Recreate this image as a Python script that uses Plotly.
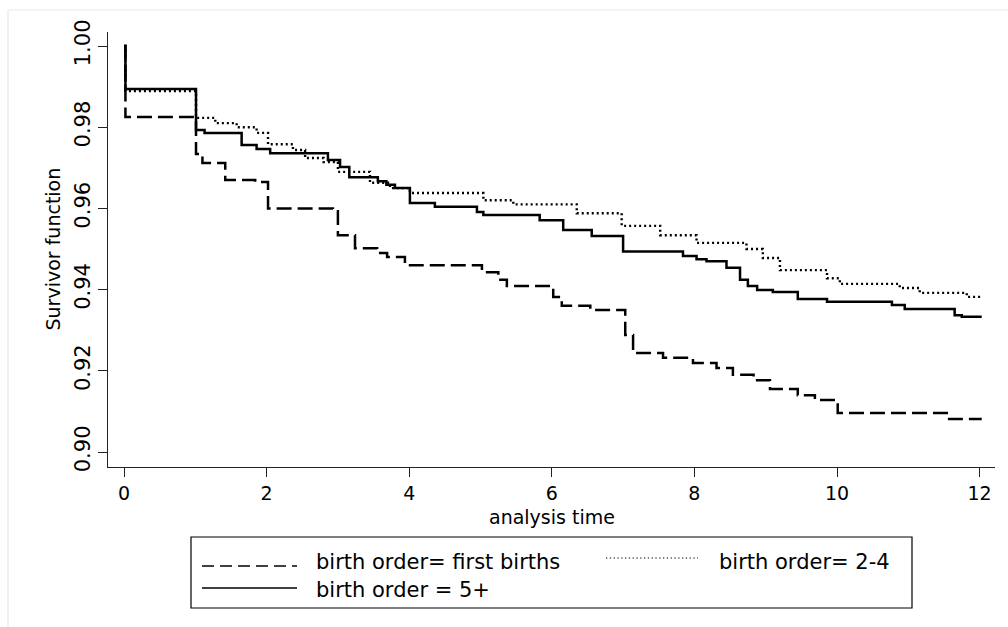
import plotly.graph_objects as go

# ---- data ----
t_first = [0, 0.02, 1.01, 1.1, 1.42, 1.84, 2.02, 2.93, 3.0, 3.24, 3.55, 3.69, 3.94, 5.02, 5.25, 5.37,
           6.02, 6.14, 6.54, 7.03, 7.14, 7.56, 7.98, 8.31, 8.54, 8.83, 9.06, 9.45, 9.69, 10.01, 11.54, 12.03]
s_first = [1.0, 0.9825, 0.9734, 0.9712, 0.967, 0.9665, 0.960, 0.9593, 0.9534, 0.9502, 0.949, 0.948, 0.946,
           0.9443, 0.9424, 0.9409, 0.9382, 0.936, 0.935, 0.9288, 0.9244, 0.9232, 0.9219, 0.9207, 0.919,
           0.9177, 0.9155, 0.914, 0.9128, 0.9096, 0.9081, 0.9081]

t_mid = [0, 0.02, 1.01, 1.28, 1.58, 1.86, 2.02, 2.37, 2.54, 2.8, 3.0, 3.45, 3.73, 4.01, 5.04, 5.46,
         6.35, 6.98, 7.52, 8.03, 8.73, 8.96, 9.2, 9.86, 10.04, 10.88, 11.16, 11.82, 12.03]
s_mid = [1.0, 0.9889, 0.9823, 0.981, 0.98, 0.9786, 0.9758, 0.9744, 0.9724, 0.9714, 0.969, 0.9663, 0.965,
         0.9638, 0.962, 0.961, 0.9588, 0.9557, 0.9534, 0.9515, 0.95, 0.9478, 0.9448, 0.9428, 0.9414,
         0.9404, 0.9392, 0.9382, 0.9382]

t_high = [0, 0.02, 1.01, 1.13, 1.65, 1.86, 2.05, 2.86, 3.03, 3.16, 3.56, 3.68, 3.8, 4.01, 4.36, 4.95, 5.04,
          5.83, 6.16, 6.56, 7.0, 7.84, 8.03, 8.17, 8.45, 8.64, 8.75, 8.88, 9.1, 9.45, 9.86, 10.77, 10.95,
          11.65, 11.75, 12.03]
s_high = [1.0, 0.9894, 0.9793, 0.9786, 0.9756, 0.9746, 0.9736, 0.9719, 0.9702, 0.9677, 0.9667, 0.9658,
          0.965, 0.9613, 0.9604, 0.9591, 0.9584, 0.9571, 0.9547, 0.9532, 0.9494, 0.9483, 0.9475, 0.947,
          0.9454, 0.9424, 0.9409, 0.9399, 0.9394, 0.9377, 0.937, 0.9362, 0.9352, 0.9337, 0.9333, 0.9333]

series_names = ["birth order= first births", "birth order= 2-4", "birth order = 5+"]
x_ticks = [0, 2, 4, 6, 8, 10, 12]
y_ticks = [0.90, 0.92, 0.94, 0.96, 0.98, 1.00]
y_tick_labels = ["0.90", "0.92", "0.94", "0.96", "0.98", "1.00"]
x_title = "analysis time"
y_title = "Survivor function"

# ---- layout geometry (pixels) ----
W, H = 1008, 627
L, R, T, B = 108, 995, 32, 467
FONT = "DejaVu Sans"

def px(xp):
    return (xp - L) / (R - L)

def py(yp):
    return (B - yp) / (B - T)

fig = go.Figure()
styles = [
    dict(color="black", width=2.5, dash="15px,6px"),
    dict(color="black", width=2.4, dash="2px,3px"),
    dict(color="black", width=2.5, dash="solid"),
]
for tt, ss, name, st in zip([t_first, t_mid, t_high], [s_first, s_mid, s_high], series_names, styles):
    fig.add_trace(go.Scatter(x=tt, y=ss, mode="lines", line=dict(shape="hv", **st),
                             name=name, showlegend=False, hoverinfo="skip"))

shapes = []
# faint outer frame
shapes.append(dict(type="rect", xref="paper", yref="paper", x0=px(8), x1=px(1015), y0=py(10), y1=py(640),
                   line=dict(color="#e3ece9", width=1.2), fillcolor="rgba(0,0,0,0)", layer="below"))
# legend box
shapes.append(dict(type="rect", xref="paper", yref="paper", x0=px(191), x1=px(912), y0=py(537), y1=py(608),
                   line=dict(color="black", width=1.2), fillcolor="white"))
# legend samples
shapes.append(dict(type="line", xref="paper", yref="paper", x0=px(202), x1=px(297), y0=py(566), y1=py(566),
                   line=dict(color="black", width=1.6, dash="12px,6px")))
shapes.append(dict(type="line", xref="paper", yref="paper", x0=px(606), x1=px(698), y0=py(558), y1=py(558),
                   line=dict(color="black", width=1.2, dash="1.3px,2.5px")))
shapes.append(dict(type="line", xref="paper", yref="paper", x0=px(202), x1=px(297), y0=py(588), y1=py(588),
                   line=dict(color="black", width=1.6)))

annotations = [
    dict(text=series_names[0], x=px(314), y=py(562), xref="paper", yref="paper", xanchor="left",
         yanchor="middle", showarrow=False, font=dict(family=FONT, size=21, color="black")),
    dict(text=series_names[1], x=px(717), y=py(562), xref="paper", yref="paper", xanchor="left",
         yanchor="middle", showarrow=False, font=dict(family=FONT, size=21, color="black")),
    dict(text=series_names[2], x=px(314), y=py(590), xref="paper", yref="paper", xanchor="left",
         yanchor="middle", showarrow=False, font=dict(family=FONT, size=21, color="black")),
    dict(text=x_title, x=0.5, y=py(517), xref="paper", yref="paper", xanchor="center",
         yanchor="middle", showarrow=False, font=dict(family=FONT, size=19, color="black")),
    dict(text=y_title, x=px(52), y=0.5, xref="paper", yref="paper", xanchor="center",
         yanchor="middle", textangle=-90, showarrow=False, font=dict(family=FONT, size=19, color="black")),
]

fig.update_layout(
    width=W, height=H,
    margin=dict(l=L, r=W - R, t=T, b=H - B),
    paper_bgcolor="white", plot_bgcolor="white",
    font=dict(family=FONT, color="black"),
    shapes=shapes, annotations=annotations,
    showlegend=False,
)
fig.update_xaxes(
    range=[(L - 124) / 71.3, (R - 124) / 71.3],
    tickvals=x_ticks, ticks="outside", ticklen=9, tickwidth=1, tickcolor="#222",
    showline=True, linecolor="#222", linewidth=1.2, showgrid=False, zeroline=False,
    tickfont=dict(family=FONT, size=19, color="black"),
)
fig.update_yaxes(
    range=[0.90 - (B - 452) / 4060, 1.00 + (46 - T) / 4060],
    tickvals=y_ticks, ticktext=y_tick_labels, tickangle=-90,
    ticks="outside", ticklen=9, tickwidth=1, tickcolor="#222",
    showline=True, linecolor="#222", linewidth=1.2, showgrid=False, zeroline=False,
    tickfont=dict(family=FONT, size=21, color="black"),
)

fig.write_html("out.html")
